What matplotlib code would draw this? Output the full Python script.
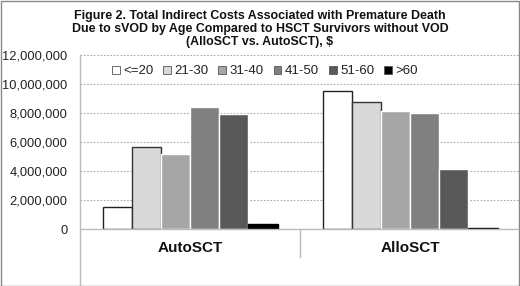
import numpy as np
import matplotlib
matplotlib.use('Agg')
import matplotlib.pyplot as plt
from matplotlib.patches import Rectangle
from matplotlib.lines import Line2D

plt.rcParams['font.family'] = ['Liberation Sans', 'DejaVu Sans']

# chart data
groups = ['AutoSCT', 'AlloSCT']
age_bands = ['<=20', '21-30', '31-40', '41-50', '51-60', '>60']
auto_costs = [1540000, 5630000, 5170000, 8430000, 7930000, 340000]
allo_costs = [9520000, 8780000, 8160000, 8020000, 4160000, 50000]
y_ticks = [0, 2000000, 4000000, 6000000, 8000000, 10000000, 12000000]

face_colors = ['#ffffff', '#d9d9d9', '#a6a6a6', '#808080', '#595959', '#000000']
edge_colors = ['#222222', '#333333', '#ffffff', '#ffffff', '#ffffff', '#000000']

fig = plt.figure(figsize=(5.2, 2.86), dpi=100)
ax = fig.add_axes([80 / 520, 1 - 229 / 286, 440 / 520, 174 / 286])

bar_w = 175 / 220 / 6
x = np.arange(len(groups))
values = np.array([auto_costs, allo_costs])
handles = []
for i, band in enumerate(age_bands):
    pos = x - 3 * bar_w + (i + 0.5) * bar_w
    b = ax.bar(pos, values[:, i], width=bar_w, color=face_colors[i],
               edgecolor=edge_colors[i], linewidth=1.0, zorder=3, label=band)
    handles.append(b)

ax.set_xlim(-0.5, 1.5)
ax.set_ylim(0, 12000000)
ax.set_yticks(y_ticks)
ax.set_yticklabels([f'{v:,}' for v in y_ticks], fontsize=9.3, color='#222222')
ax.tick_params(axis='y', length=0, pad=9)
ax.set_xticks([])

for v in y_ticks[1:]:
    ax.axhline(v, color='#aaaaaa', linestyle=(0, (1.5, 1.5)), linewidth=0.8, zorder=1)

for s in ['top', 'right', 'bottom', 'left']:
    ax.spines[s].set_visible(False)

# axis lines drawn in figure space (extend below zero like the original)
fig.add_artist(Line2D([80 / 520, 80 / 520], [1 - 55 / 286, 1 - 285 / 286],
                      color='#bbbbbb', linewidth=1.0))
fig.add_artist(Line2D([80 / 520, 518 / 520], [1 - 229 / 286, 1 - 229 / 286],
                      color='#bbbbbb', linewidth=1.0, zorder=4))
fig.add_artist(Line2D([300 / 520, 300 / 520], [1 - 229 / 286, 1 - 257 / 286],
                      color='#bbbbbb', linewidth=1.0))

for i, g in enumerate(groups):
    ax.text(x[i], -1300000, g, ha='center', va='center', fontsize=11,
            fontweight='bold', color='#111111')

ax.legend(handles=handles, loc='upper left', bbox_to_anchor=(0.06, 0.97),
          ncol=6, frameon=False, fontsize=9.5, handlelength=0.6, handleheight=0.6,
          handletextpad=0.25, columnspacing=0.75, borderaxespad=0)
leg = ax.get_legend()
for p in leg.get_patches():
    p.set_edgecolor('#555555')
    p.set_linewidth(0.6)
for t in leg.get_texts():
    t.set_color('#222222')

fig.text(0.5, 1 - 10 / 286,
         'Figure 2. Total Indirect Costs Associated with Premature Death\n'
         'Due to sVOD by Age Compared to HSCT Survivors without VOD\n'
         '(AlloSCT vs. AutoSCT), $',
         ha='center', va='top', fontsize=8.9, fontweight='bold',
         linespacing=1.12, color='#111111')

fig.add_artist(Rectangle((0.5 / 520, 0.5 / 286), 518.5 / 520, 284.5 / 286,
                         transform=fig.transFigure, fill=False,
                         edgecolor='#888888', linewidth=1.0))

fig.savefig('out.png', dpi=100)
